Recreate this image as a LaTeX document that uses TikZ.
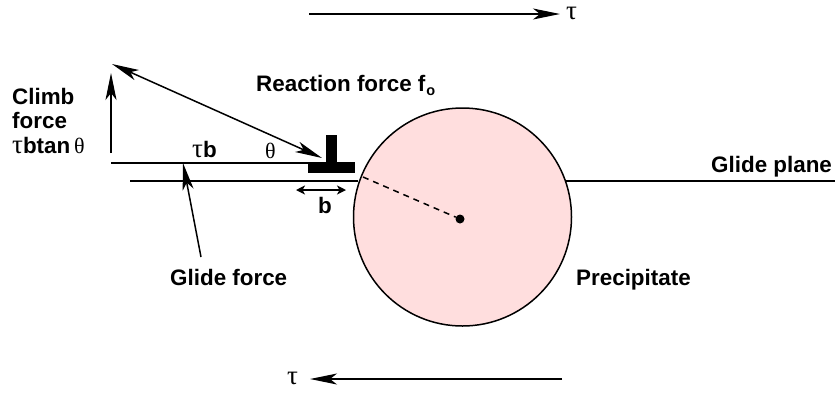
\documentclass[tikz,border=0pt]{standalone}
\usepackage{fontspec}
\setmainfont{Liberation Sans}
\newfontfamily\grk{Liberation Serif}
\usetikzlibrary{arrows.meta}
\definecolor{ppt}{RGB}{255,222,222}
\newcommand{\tauc}{{\grk\fontsize{27}{28}\selectfont\mdseries τ}}
\newcommand{\thetac}{{\grk\fontsize{22}{28}\selectfont\mdseries θ}}
\tikzset{
 x=1pt,y=-1pt,
 lbl/.style={font=\fontsize{22.4}{26}\selectfont\bfseries,inner sep=0pt,text=black,anchor=base west},
 sym/.style={font=\fontsize{27}{28}\selectfont\grk,inner sep=0pt,anchor=base west},
 ln/.style={line width=1.5pt},
 arr/.style={ln,-{Stealth[length=27pt,width=11pt,inset=7pt]}},
 arrb/.style={ln,{Stealth[length=27pt,width=11pt,inset=7pt]}-{Stealth[length=27pt,width=11pt,inset=7pt]}},
 arrs/.style={ln,{Stealth[length=9pt,width=9pt,inset=2.5pt]}-{Stealth[length=9pt,width=9pt,inset=2.5pt]}},
}
\begin{document}
\begin{tikzpicture}
\useasboundingbox (0,0) rectangle (835,392);
\fill[white] (0,0) rectangle (835,392);
% precipitate
\node[circle,draw=black,line width=1.5pt,fill=ppt,minimum size=218pt,inner sep=0pt] (ppt) at (462.5,217) {};
% glide plane
\coordinate (gl) at (130,181); \coordinate (gm) at (358,181);
\coordinate (gr1) at (566,181); \coordinate (gr2) at (835,181);
\draw[ln] (gl) -- (gm);
\draw[ln] (gr1) -- (gr2);
% force triangle
\coordinate (base1) at (111,163); \coordinate (base2) at (310,163);
\draw[ln] (base1) -- (base2);
\coordinate (c1) at (111,153); \coordinate (c2) at (111,73);
\draw[arr] (c1) -- (c2);
\coordinate (d1) at (322,158); \coordinate (d2) at (112,64);
\draw[arrb] (d1) -- (d2);
% dislocation
\fill (308,162) rectangle (355,173);
\fill (326,135) rectangle (337,162);
% dashed radius
\node[circle,fill=black,inner sep=0pt,minimum size=9pt] (dot) at (460,219) {};
\coordinate (r) at (363,177);
\draw[ln,dash pattern=on 6pt off 5pt] (r) -- (dot);
% b arrow
\coordinate (b1) at (296,190); \coordinate (b2) at (346,190);
\draw[arrs] (b1) -- (b2);
% glide force arrow
\coordinate (f1) at (201,257); \coordinate (f2) at (183,163);
\draw[arr] (f1) -- (f2);
% shear arrows
\coordinate (t1) at (309,14); \coordinate (t2) at (560,14);
\draw[arr] (t1) -- (t2);
\coordinate (u1) at (562,379); \coordinate (u2) at (310,379);
\draw[arr] (u1) -- (u2);
% labels
\node[sym] (tautop) at (566,19) {τ};
\node[sym] (taubot) at (287,384) {τ};
\node[lbl] (react) at (256,91) {Reaction force f\kern1pt\raisebox{-4pt}{\fontsize{14.5}{15}\selectfont o}};
\node[lbl] (clb1) at (12,104) {Climb};
\node[lbl] (clb2) at (12,128) {force};
\node[lbl] (clb3) at (12,153) {\tauc btan\,\thetac};
\node[lbl] (taub) at (192,157) {\tauc b};
\node[sym,font=\fontsize{22}{28}\selectfont\grk] (th) at (265,158) {θ};
\node[lbl,anchor=base] (blab) at (325,213) {b};
\node[lbl] (gf) at (170,285) {Glide force};
\node[lbl] (prec) at (576,285) {Precipitate};
\node[lbl] (gp) at (711,172) {Glide plane};
\end{tikzpicture}
\end{document}
